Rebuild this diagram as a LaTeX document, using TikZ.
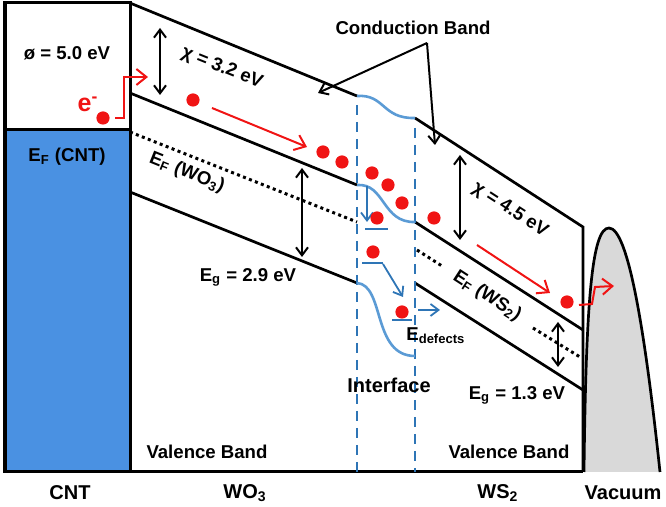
\documentclass[tikz,border=0pt]{standalone}
\usepackage{fontspec}
\setmainfont{Liberation Sans}
\usetikzlibrary{arrows.meta}
\definecolor{cntblue}{RGB}{74,145,226}
\definecolor{ifblue}{RGB}{46,117,182}
\definecolor{wavblue}{RGB}{91,155,213}
\definecolor{vacgray}{RGB}{217,217,217}
\definecolor{elred}{RGB}{240,20,20}
\tikzset{
  bande/.style={line width=1.35pt},
  cadre/.style={line width=1.5pt},
  fermi/.style={line width=1.5pt, dash pattern=on 1.5pt off 1.7pt},
  ecart/.style={{Straight Barb[length=4pt,width=6pt]}-{Straight Barb[length=4pt,width=6pt]}, line width=1pt},
  fleche/.style={-{Straight Barb[length=4pt,width=6pt]}, line width=1pt},
  saut/.style={-{Straight Barb[length=5pt,width=8pt]}, line width=1pt, elred},
  piege/.style={-{Straight Barb[length=4pt,width=6pt]}, line width=0.9pt, ifblue},
  niveau/.style={line width=0.9pt, ifblue},
  onde/.style={line width=1.3pt, wavblue},
  limite/.style={line width=1.4pt, ifblue, dash pattern=on 5pt off 3.5pt},
  etiq/.style={font=\fontsize{9.3}{11}\selectfont\bfseries},
  penche/.style={etiq, inner sep=0pt},
  titre/.style={font=\fontsize{10}{12}\selectfont\bfseries},
}
\begin{document}
\begin{tikzpicture}[x=0.5pt,y=-0.5pt]
	\useasboundingbox (0,0) rectangle (666,507);
	% le CNT
	\fill[cntblue] (5,130) rectangle (130,472);
	\draw[cadre] (5,3) rectangle (130,472);
	\draw[cadre] (5,130) -- (130,130);
	% le vide
	\filldraw[fill=vacgray, bande] (584,472) .. controls (586,300) and (592,228) .. (609,228) .. controls (628,228) and (645,330) .. (660,472);
	% les bandes du WO3
	\draw[bande] (130,3) -- (357,96);
	\draw[bande] (130,93) -- (357,185);
	\draw[bande] (130,192) -- (357,283);
	\draw[fermi] (130,132) -- (357,222);
	% les bandes du WS2
	\draw[bande] (415,118) -- (583,227) -- (583,472);
	\draw[bande] (415,222) -- (583,330);
	\draw[bande] (415,283) -- (583,390);
	\draw[fermi] (417,250) -- (442,266);
	\draw[fermi] (533,328) -- (580,357);
	\draw[cadre] (130,472) -- (583,472);
	% l'interface
	\draw[limite] (357,105) -- (357,472);
	\draw[limite] (415,128) -- (415,472);
	\draw[onde] (357,96) .. controls (385,94) and (382,119) .. (415,118);
	\draw[onde] (357,185) .. controls (385,183) and (382,223) .. (415,222);
	\draw[onde] (357,283) .. controls (385,285) and (372,356) .. (415,356);
	% les niveaux de defauts
	\draw[niveau] (365,229) -- (388,229);
	\draw[niveau] (362,263) -- (383,263);
	\draw[niveau] (392,320) -- (412,320);
	\draw[piege] (367,186) -- (367,222);
	\draw[piege] (383,264) -- (403,297);
	\draw[piege] (418,310) -- (440,310);
	% les ecarts d'energie
	\draw[ecart] (160,28) -- (160,95);
	\draw[ecart] (302,168) -- (302,257);
	\draw[ecart] (460,155) -- (460,240);
	\draw[ecart] (558,322) -- (558,367);
	% les electrons
	\foreach \x/\y in {103/118, 193/100, 323/152, 342/162, 372/173, 388/185, 402/203, 377/218, 434/218, 373/252, 402/312, 567/302}
		\fill[elred] (\x,\y) circle (3.3pt);
	\draw[saut] (115,118) -- (124,118) -- (124,77) -- (148,77);
	\draw[saut] (212,108) -- (307,147);
	\draw[saut] (477,245) -- (550,293);
	\draw[saut] (579,305) -- (592,304) -- (595,287) -- (614,286);
	% la bande de conduction
	\node[etiq] (cb) at (413,28) {Conduction Band};
	\coordinate (cbpied) at (427,43);
	\draw[fleche] (cbpied) -- (318,93);
	\draw[fleche] (cbpied) -- (435,145);
	% les textes
	\node[etiq] (phi) at (67,53) {ø = 5.0 eV};
	\node[etiq] (efcnt) at (67,157) {E\textsubscript{F} (CNT)};
	\node[font=\fontsize{12.5}{14}\selectfont\bfseries, elred] (el) at (88,104) {e\textsuperscript{-}};
	\node[penche, rotate=-22] (chiwo) at (222,68) {χ = 3.2 eV};
	\node[penche, rotate=-22] (efwo) at (187,173) {E\textsubscript{F} (WO\textsubscript{3})};
	\node[etiq] (egwo) at (248,277) {E\textsubscript{g} = 2.9 eV};
	\node[penche, rotate=-33] (chiws) at (510,210) {χ = 4.5 eV};
	\node[penche, rotate=-33] (efws) at (487,296) {E\textsubscript{F} (WS\textsubscript{2})};
	\node[etiq, anchor=west, inner sep=0pt] (edef) at (406,336) {E\textsubscript{defects}};
	\node[titre] (intf) at (389,385) {Interface};
	\node[etiq] (egws) at (517,395) {E\textsubscript{g} = 1.3 eV};
	\node[etiq] (vbwo) at (207,452) {Valence Band};
	\node[etiq] (vbws) at (509,452) {Valence Band};
	% les materiaux
	\node[titre] (tcnt) at (70,493) {CNT};
	\node[titre] (two) at (245,493) {WO\textsubscript{3}};
	\node[titre] (tws) at (498,493) {WS\textsubscript{2}};
	\node[titre] (tvac) at (623,493) {Vacuum};
\end{tikzpicture}
\end{document}
